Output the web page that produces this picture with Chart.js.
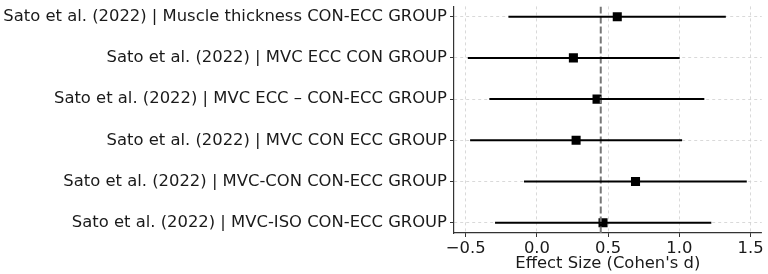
<!DOCTYPE html>
<html>
<head>
<meta charset="utf-8">
<script src="https://cdn.jsdelivr.net/npm/chart.js@4"></script>
<style>
  html, body { margin: 0; padding: 0; background: #fff; }
  #wrap { width: 768px; height: 274px; }
</style>
</head>
<body>
<div id="wrap"><canvas id="c" width="768" height="274"></canvas></div>
<script>
const labels = [
  "Sato et al. (2022) | Muscle thickness CON-ECC GROUP",
  "Sato et al. (2022) | MVC ECC CON GROUP",
  "Sato et al. (2022) | MVC ECC \u2013 CON-ECC GROUP",
  "Sato et al. (2022) | MVC CON ECC GROUP",
  "Sato et al. (2022) | MVC-CON CON-ECC GROUP",
  "Sato et al. (2022) | MVC-ISO CON-ECC GROUP"
];
const effects = [0.564, 0.256, 0.422, 0.275, 0.692, 0.464];
const ciLow  = [-0.200, -0.485, -0.334, -0.469, -0.091, -0.294];
const ciHigh = [1.326, 1.002, 1.175, 1.019, 1.473, 1.224];
const pooled = 0.448;
const xTicks = [-0.5, 0.0, 0.5, 1.0, 1.5];
const xTitle = "Effect Size (Cohen's d)";

const FONT = "'DejaVu Sans', sans-serif";
const TXT = '#1a1a1a';
const FS = 16.4;

const ciSets = labels.map((_, i) => ({
  type: 'line',
  data: [{x: ciLow[i], y: i}, {x: ciHigh[i], y: i}],
  borderColor: '#000',
  borderWidth: 2,
  pointRadius: 0,
  showLine: true,
  fill: false
}));

const refSet = {
  type: 'line',
  data: [{x: pooled, y: -0.25}, {x: pooled, y: labels.length - 0.75}],
  borderColor: '#777',
  borderWidth: 2,
  borderDash: [7, 3],
  pointRadius: 0,
  showLine: true,
  fill: false
};

const ptSet = {
  type: 'scatter',
  data: effects.map((v, i) => ({x: v, y: i})),
  backgroundColor: '#000',
  borderColor: '#000',
  pointStyle: 'rect',
  pointRadius: 6.4,
  borderWidth: 0
};

new Chart(document.getElementById('c'), {
  type: 'scatter',
  data: { datasets: [...ciSets, refSet, ptSet] },
  options: {
    responsive: false,
    animation: false,
    devicePixelRatio: 1,
    layout: { padding: { top: 4, right: 5, left: 0, bottom: 0 } },
    plugins: { legend: { display: false }, tooltip: { enabled: false } },
    scales: {
      x: {
        type: 'linear',
        min: -0.582, max: 1.577,
        afterBuildTicks: s => { s.ticks = xTicks.map(v => ({value: v})); },
        afterFit: s => { s.height = 41; s.paddingLeft = 0; s.paddingRight = 0; },
        ticks: {
          color: TXT,
          font: { family: FONT, size: FS },
          padding: 2,
          maxRotation: 0,
          callback: v => (v < 0 ? '\u2212' + Math.abs(v).toFixed(1) : v.toFixed(1))
        },
        grid: { color: '#d0d0d0', lineWidth: 0.8, tickLength: 4, tickColor: '#333', tickWidth: 1 },
        border: { display: true, color: '#333', width: 1.2, dash: [3, 3] },
        title: { display: true, text: xTitle, color: TXT, font: { family: FONT, size: FS }, padding: { top: 0, bottom: 0 } }
      },
      y: {
        type: 'linear',
        reverse: true,
        min: -0.25, max: labels.length - 0.75,
        afterBuildTicks: s => { s.ticks = labels.map((_, i) => ({value: i})); },
        afterFit: s => { s.width = 454; s.paddingTop = 0; s.paddingBottom = 0; },
        ticks: {
          color: TXT,
          font: { family: FONT, size: FS },
          padding: 3,
          callback: v => labels[v]
        },
        grid: { color: '#d0d0d0', lineWidth: 0.8, tickLength: 4, tickColor: '#333', tickWidth: 1 },
        border: { display: true, color: '#333', width: 1.2, dash: [3, 3] }
      }
    }
  }
});
</script>
</body>
</html>
